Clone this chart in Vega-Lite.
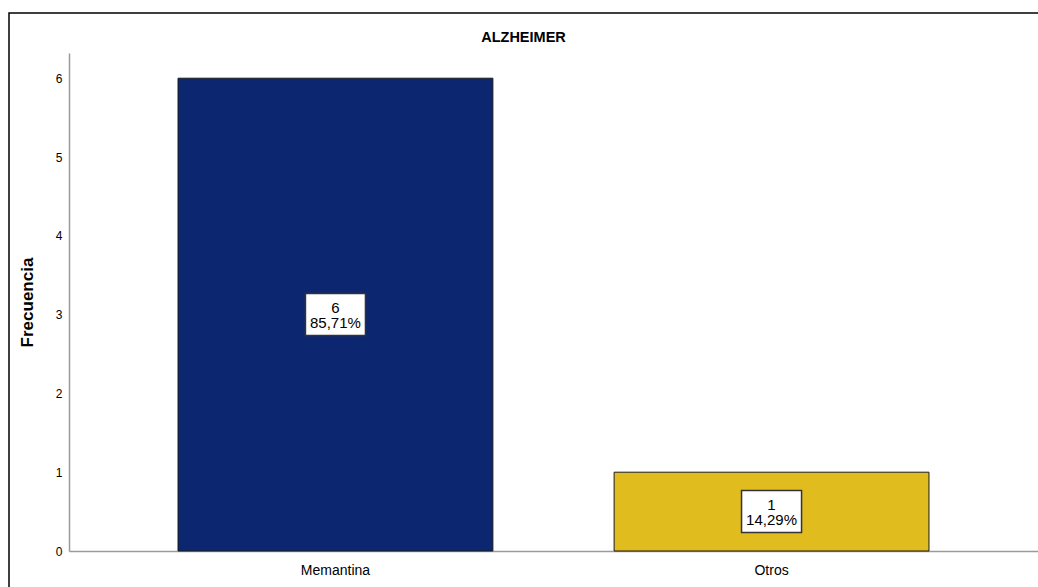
{
  "$schema": "https://vega.github.io/schema/vega-lite/v6.json",
  "autosize": {"type": "none"},
  "width": 1031,
  "height": 576,
  "padding": {"left": 9, "top": 13, "right": -2, "bottom": -2},
  "background": "white",
  "config": {
    "view": {"stroke": "#000000", "strokeWidth": 1.5},
    "font": "Liberation Sans"
  },
  "title": {
    "text": "ALZHEIMER",
    "fontSize": 14.5,
    "fontWeight": "bold",
    "font": "Liberation Sans",
    "color": "#000000",
    "anchor": "middle",
    "dx": -1,
    "offset": -32
  },
  "data": {
    "values": [
      {"categoria": "Memantina", "n": 6, "etiqueta": "6\n85,71%"},
      {"categoria": "Otros", "n": 1, "etiqueta": "1\n14,29%"}
    ]
  },
  "encoding": {
    "x": {
      "field": "categoria",
      "type": "nominal",
      "sort": null,
      "scale": {"paddingInner": 0.278, "paddingOuter": 0.25, "range": [60, 1029]},
      "axis": {
        "title": null,
        "offset": -38,
        "labelAngle": 0,
        "labelFontSize": 14,
        "labelColor": "#000000",
        "labelPadding": 12,
        "ticks": false,
        "domainColor": "#9a9a9a",
        "domainWidth": 1.5
      }
    }
  },
  "layer": [
    {
      "mark": {"type": "bar", "stroke": "#1a1a1a", "strokeWidth": 1},
      "encoding": {
        "y": {
          "field": "n",
          "type": "quantitative",
          "scale": {"domain": [0, 6.32], "nice": false, "range": [538, 40]},
          "axis": {
            "title": "Frecuencia",
            "offset": -60,
            "titleFontSize": 17,
            "titleFontWeight": "bold",
            "titleColor": "#000000",
            "titlePadding": 19,
            "values": [0, 1, 2, 3, 4, 5, 6],
            "format": "d",
            "grid": false,
            "ticks": false,
            "labelFontSize": 12,
            "labelColor": "#000000",
            "labelPadding": 7,
            "domainColor": "#9a9a9a",
            "domainWidth": 1.5
          }
        },
        "color": {
          "field": "categoria",
          "type": "nominal",
          "sort": null,
          "scale": {"range": ["#0c2670", "#e1bc1e"]},
          "legend": null
        }
      }
    },
    {
      "transform": [{"calculate": "datum.n / 2", "as": "mitad"}],
      "mark": {
        "type": "point",
        "shape": "M-1,-0.7H1V0.7H-1Z",
        "size": 3600,
        "filled": false,
        "fill": "#ffffff",
        "fillOpacity": 1,
        "stroke": "#333333",
        "strokeOpacity": 1,
        "strokeWidth": 1.5,
        "opacity": 1
      },
      "encoding": {"y": {"field": "mitad", "type": "quantitative"}}
    },
    {
      "transform": [{"calculate": "datum.n / 2", "as": "mitad"}],
      "mark": {
        "type": "text",
        "fontSize": 15,
        "color": "#000000",
        "lineBreak": "\n",
        "lineHeight": 15,
        "baseline": "middle",
        "dy": -7
      },
      "encoding": {
        "y": {"field": "mitad", "type": "quantitative"},
        "text": {"field": "etiqueta", "type": "nominal"}
      }
    }
  ]
}
